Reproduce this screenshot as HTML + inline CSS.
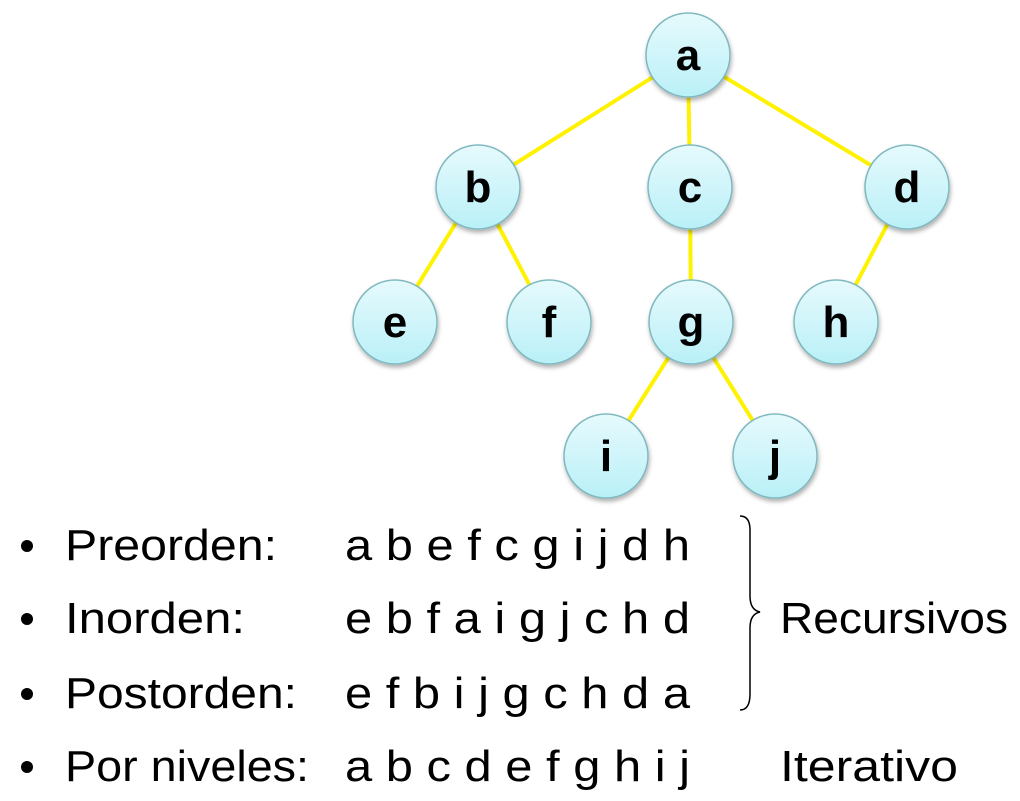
<!DOCTYPE html>
<html><head><meta charset="utf-8"><style>
html,body{margin:0;padding:0;background:#fff;width:1020px;height:801px;overflow:hidden}
</style></head><body>
<svg width="1020" height="801" xmlns="http://www.w3.org/2000/svg">
<defs>
<linearGradient id="g" x1="0" y1="0" x2="0" y2="1">
<stop offset="0" stop-color="#e6fafd"/><stop offset="1" stop-color="#b9f0f7"/>
</linearGradient>
<filter id="s" x="-30%" y="-30%" width="160%" height="160%"><feDropShadow dx="1" dy="3" stdDeviation="2" flood-color="#000" flood-opacity="0.3"/></filter>
</defs>
<g stroke="#fff200" stroke-width="4">
<line x1="688" y1="55" x2="478" y2="187"/>
<line x1="688" y1="55" x2="690" y2="187"/>
<line x1="688" y1="55" x2="907" y2="187"/>
<line x1="478" y1="187" x2="395" y2="322"/>
<line x1="478" y1="187" x2="549" y2="322"/>
<line x1="690" y1="187" x2="691" y2="322"/>
<line x1="907" y1="187" x2="836" y2="322"/>
<line x1="691" y1="322" x2="606" y2="456"/>
<line x1="691" y1="322" x2="775" y2="456"/>
</g>
<g fill="url(#g)" stroke="#7fb8bf" stroke-width="1.5" filter="url(#s)">
<circle cx="688" cy="55" r="42"/>
<circle cx="478" cy="187" r="42"/>
<circle cx="690" cy="187" r="42"/>
<circle cx="907" cy="187" r="42"/>
<circle cx="395" cy="322" r="42"/>
<circle cx="549" cy="322" r="42"/>
<circle cx="691" cy="322" r="42"/>
<circle cx="836" cy="322" r="42"/>
<circle cx="606" cy="456" r="42"/>
<circle cx="775" cy="456" r="42"/>
</g>
<g font-family="Liberation Sans, sans-serif" font-weight="bold" font-size="44" text-anchor="middle" fill="#000">
<text x="688" y="70">a</text>
<text x="478" y="202">b</text>
<text x="690" y="202">c</text>
<text x="907" y="202">d</text>
<text x="395" y="337">e</text>
<text x="549" y="337">f</text>
<text x="691" y="337">g</text>
<text x="836" y="337">h</text>
<text x="606" y="471">i</text>
<text x="775" y="471">j</text>
</g>
<g font-family="Liberation Sans, sans-serif" font-size="44" fill="#000">
<circle cx="27" cy="546" r="6"/><circle cx="27" cy="619" r="6"/><circle cx="27" cy="694" r="6"/><circle cx="27" cy="767" r="6"/>
<text x="65" y="560" textLength="212" lengthAdjust="spacingAndGlyphs">Preorden:</text>
<text x="65" y="633" textLength="180" lengthAdjust="spacingAndGlyphs">Inorden:</text>
<text x="65" y="708" textLength="232" lengthAdjust="spacingAndGlyphs">Postorden:</text>
<text x="65" y="781" textLength="244" lengthAdjust="spacingAndGlyphs">Por niveles:</text>
<text x="345" y="560" textLength="345" lengthAdjust="spacingAndGlyphs">a b e f c g i j d h</text>
<text x="345" y="633" textLength="345" lengthAdjust="spacingAndGlyphs">e b f a i g j c h d</text>
<text x="345" y="708" textLength="345" lengthAdjust="spacingAndGlyphs">e f b i j g c h d a</text>
<text x="345" y="781" textLength="345" lengthAdjust="spacingAndGlyphs">a b c d e f g h i j</text>
<text x="780" y="633" textLength="228" lengthAdjust="spacingAndGlyphs">Recursivos</text>
<text x="780" y="781" textLength="178" lengthAdjust="spacingAndGlyphs">Iterativo</text>
</g>
<path d="M740,516 Q750,516 750,530 L750,596 Q750,610 760,612 Q750,614 750,628 L750,694 Q750,710 740,710" fill="none" stroke="#000" stroke-width="1.5"/>
</svg>
</body></html>
